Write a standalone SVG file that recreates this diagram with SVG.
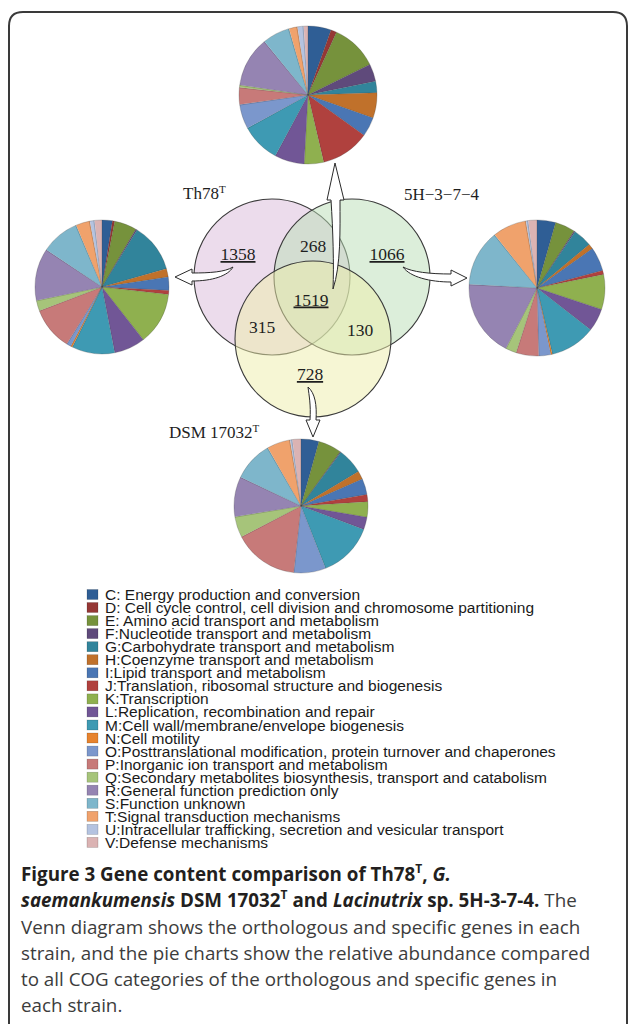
<svg xmlns="http://www.w3.org/2000/svg" xmlns:xlink="http://www.w3.org/1999/xlink" width="629" height="1024" viewBox="0 0 629 1024">
<style>
.C{fill:#2f5e95;stroke:#2f5e95}.D{fill:#953735;stroke:#953735}.E{fill:#76923c;stroke:#76923c}.F{fill:#5f4a7b;stroke:#5f4a7b}
.G{fill:#31849b;stroke:#31849b}.H{fill:#c0712b;stroke:#c0712b}.I{fill:#4a76b4;stroke:#4a76b4}.J{fill:#b0413e;stroke:#b0413e}
.K{fill:#8fb04f;stroke:#8fb04f}.L{fill:#715696;stroke:#715696}.M{fill:#3e9ab3;stroke:#3e9ab3}.N{fill:#e7832e;stroke:#e7832e}
.O{fill:#7b97cc;stroke:#7b97cc}.P{fill:#c77a79;stroke:#c77a79}.Q{fill:#a6c47a;stroke:#a6c47a}.R{fill:#9584b2;stroke:#9584b2}
.S{fill:#7eb6cb;stroke:#7eb6cb}.T{fill:#f0a26c;stroke:#f0a26c}.U{fill:#b4c3e0;stroke:#b4c3e0}.V{fill:#dbb3b3;stroke:#dbb3b3}
.pie circle{fill:none;stroke-width:114.6}
.pie .ol{stroke:#3a3a3a;stroke-opacity:.35;stroke-width:.7}
.venn circle{stroke:#3a3a3a;stroke-width:1.1}
.vn{font-family:"Liberation Serif","Times New Roman",serif;font-size:17.5px;fill:#1e1e1e;text-anchor:middle}
.vl{font-family:"Liberation Serif","Times New Roman",serif;font-size:17px;fill:#1e1e1e}
.arr{fill:#fff;stroke:#2a2a2a;stroke-width:1}
.leg text{font-family:"Liberation Sans",Arial,sans-serif;font-size:15.5px;fill:#1a1a1a}
.leg rect{stroke:#000;stroke-opacity:.25;stroke-width:.6}
.cap{font-family:"Open Sans","Liberation Sans",sans-serif;font-size:18.8px;fill:#3c3c3c}
.b{font-weight:bold;fill:#231f20}
</style>
<defs>
<path id="rl" d="M0 0H114.6" fill="none" stroke="#3a3a3a" stroke-opacity=".35" stroke-width=".7" vector-effect="non-scaling-stroke"/>
</defs>
<path d="M9 1024V26Q9 12 23 12H613Q627 12 627 26V1024" fill="none" stroke="#3a3a3a" stroke-width="2"/>

<g id="pie-top" class="pie" transform="translate(308 95) rotate(-90) scale(0.60214)">
<circle class="C" r="57.2958" stroke-dasharray="19.5 400" stroke-dashoffset="0"/>
<circle class="D" r="57.2958" stroke-dasharray="4.9 400" stroke-dashoffset="-19.5"/>
<circle class="E" r="57.2958" stroke-dasharray="39.2 400" stroke-dashoffset="-24.4"/>
<circle class="F" r="57.2958" stroke-dasharray="14.8 400" stroke-dashoffset="-63.6"/>
<circle class="G" r="57.2958" stroke-dasharray="9.6 400" stroke-dashoffset="-78.4"/>
<circle class="H" r="57.2958" stroke-dasharray="21.4 400" stroke-dashoffset="-88"/>
<circle class="I" r="57.2958" stroke-dasharray="16.2 400" stroke-dashoffset="-109.4"/>
<circle class="J" r="57.2958" stroke-dasharray="40.9 400" stroke-dashoffset="-125.6"/>
<circle class="K" r="57.2958" stroke-dasharray="16.5 400" stroke-dashoffset="-166.5"/>
<circle class="L" r="57.2958" stroke-dasharray="25 400" stroke-dashoffset="-183"/>
<circle class="M" r="57.2958" stroke-dasharray="33 400" stroke-dashoffset="-208"/>
<circle class="O" r="57.2958" stroke-dasharray="20.6 400" stroke-dashoffset="-241"/>
<circle class="P" r="57.2958" stroke-dasharray="14.4 400" stroke-dashoffset="-261.6"/>
<circle class="Q" r="57.2958" stroke-dasharray="2 400" stroke-dashoffset="-276"/>
<circle class="R" r="57.2958" stroke-dasharray="42.4 400" stroke-dashoffset="-278"/>
<circle class="S" r="57.2958" stroke-dasharray="23.1 400" stroke-dashoffset="-320.4"/>
<circle class="T" r="57.2958" stroke-dasharray="7.1 400" stroke-dashoffset="-343.5"/>
<circle class="U" r="57.2958" stroke-dasharray="5.2 400" stroke-dashoffset="-350.6"/>
<circle class="V" r="57.2958" stroke-dasharray="4.2 400" stroke-dashoffset="-355.8"/>
<use href="#rl"/><use href="#rl" transform="rotate(19.5)"/><use href="#rl" transform="rotate(24.4)"/><use href="#rl" transform="rotate(63.6)"/><use href="#rl" transform="rotate(78.4)"/><use href="#rl" transform="rotate(88)"/><use href="#rl" transform="rotate(109.4)"/><use href="#rl" transform="rotate(125.6)"/><use href="#rl" transform="rotate(166.5)"/><use href="#rl" transform="rotate(183)"/><use href="#rl" transform="rotate(208)"/><use href="#rl" transform="rotate(241)"/><use href="#rl" transform="rotate(261.6)"/><use href="#rl" transform="rotate(276)"/><use href="#rl" transform="rotate(278)"/><use href="#rl" transform="rotate(320.4)"/><use href="#rl" transform="rotate(343.5)"/><use href="#rl" transform="rotate(350.6)"/><use href="#rl" transform="rotate(355.8)"/>
<circle class="ol" r="114.6" vector-effect="non-scaling-stroke"/>
</g>

<g id="pie-left" class="pie" transform="translate(102 287) rotate(-90) scale(0.58468)">
<circle class="C" r="57.2958" stroke-dasharray="9 400" stroke-dashoffset="0"/>
<circle class="D" r="57.2958" stroke-dasharray="2 400" stroke-dashoffset="-9"/>
<circle class="E" r="57.2958" stroke-dasharray="19.3 400" stroke-dashoffset="-11"/>
<circle class="F" r="57.2958" stroke-dasharray="1.2 400" stroke-dashoffset="-30.3"/>
<circle class="G" r="57.2958" stroke-dasharray="42.4 400" stroke-dashoffset="-31.5"/>
<circle class="H" r="57.2958" stroke-dasharray="7.4 400" stroke-dashoffset="-73.9"/>
<circle class="I" r="57.2958" stroke-dasharray="11.6 400" stroke-dashoffset="-81.3"/>
<circle class="J" r="57.2958" stroke-dasharray="3.5 400" stroke-dashoffset="-92.9"/>
<circle class="K" r="57.2958" stroke-dasharray="45.4 400" stroke-dashoffset="-96.4"/>
<circle class="L" r="57.2958" stroke-dasharray="27 400" stroke-dashoffset="-141.8"/>
<circle class="M" r="57.2958" stroke-dasharray="37.2 400" stroke-dashoffset="-168.8"/>
<circle class="N" r="57.2958" stroke-dasharray="1.5 400" stroke-dashoffset="-206"/>
<circle class="O" r="57.2958" stroke-dasharray="3.9 400" stroke-dashoffset="-207.5"/>
<circle class="P" r="57.2958" stroke-dasharray="37.5 400" stroke-dashoffset="-211.4"/>
<circle class="Q" r="57.2958" stroke-dasharray="9.1 400" stroke-dashoffset="-248.9"/>
<circle class="R" r="57.2958" stroke-dasharray="45.4 400" stroke-dashoffset="-258"/>
<circle class="S" r="57.2958" stroke-dasharray="33.4 400" stroke-dashoffset="-303.4"/>
<circle class="T" r="57.2958" stroke-dasharray="12.2 400" stroke-dashoffset="-336.8"/>
<circle class="U" r="57.2958" stroke-dasharray="4 400" stroke-dashoffset="-349"/>
<circle class="V" r="57.2958" stroke-dasharray="7 400" stroke-dashoffset="-353"/>
<use href="#rl"/><use href="#rl" transform="rotate(9)"/><use href="#rl" transform="rotate(11)"/><use href="#rl" transform="rotate(30.3)"/><use href="#rl" transform="rotate(31.5)"/><use href="#rl" transform="rotate(73.9)"/><use href="#rl" transform="rotate(81.3)"/><use href="#rl" transform="rotate(92.9)"/><use href="#rl" transform="rotate(96.4)"/><use href="#rl" transform="rotate(141.8)"/><use href="#rl" transform="rotate(168.8)"/><use href="#rl" transform="rotate(206)"/><use href="#rl" transform="rotate(207.5)"/><use href="#rl" transform="rotate(211.4)"/><use href="#rl" transform="rotate(248.9)"/><use href="#rl" transform="rotate(258)"/><use href="#rl" transform="rotate(303.4)"/><use href="#rl" transform="rotate(336.8)"/><use href="#rl" transform="rotate(349)"/><use href="#rl" transform="rotate(353)"/>
<circle class="ol" r="114.6" vector-effect="non-scaling-stroke"/>
</g>

<g id="pie-right" class="pie" transform="translate(537 288) rotate(-90) scale(0.59341)">
<circle class="C" r="57.2958" stroke-dasharray="16 400" stroke-dashoffset="0"/>
<circle class="E" r="57.2958" stroke-dasharray="17 400" stroke-dashoffset="-16"/>
<circle class="F" r="57.2958" stroke-dasharray="1 400" stroke-dashoffset="-33"/>
<circle class="G" r="57.2958" stroke-dasharray="16 400" stroke-dashoffset="-34"/>
<circle class="H" r="57.2958" stroke-dasharray="4.5 400" stroke-dashoffset="-50"/>
<circle class="I" r="57.2958" stroke-dasharray="20.4 400" stroke-dashoffset="-54.5"/>
<circle class="J" r="57.2958" stroke-dasharray="3.5 400" stroke-dashoffset="-74.9"/>
<circle class="K" r="57.2958" stroke-dasharray="29.9 400" stroke-dashoffset="-78.4"/>
<circle class="L" r="57.2958" stroke-dasharray="19.5 400" stroke-dashoffset="-108.3"/>
<circle class="M" r="57.2958" stroke-dasharray="38.8 400" stroke-dashoffset="-127.8"/>
<circle class="N" r="57.2958" stroke-dasharray="1.4 400" stroke-dashoffset="-166.6"/>
<circle class="O" r="57.2958" stroke-dasharray="10.3 400" stroke-dashoffset="-168"/>
<circle class="P" r="57.2958" stroke-dasharray="19.4 400" stroke-dashoffset="-178.3"/>
<circle class="Q" r="57.2958" stroke-dasharray="9.3 400" stroke-dashoffset="-197.7"/>
<circle class="R" r="57.2958" stroke-dasharray="65.7 400" stroke-dashoffset="-207"/>
<circle class="S" r="57.2958" stroke-dasharray="48.3 400" stroke-dashoffset="-272.7"/>
<circle class="T" r="57.2958" stroke-dasharray="29 400" stroke-dashoffset="-321"/>
<circle class="U" r="57.2958" stroke-dasharray="2 400" stroke-dashoffset="-350"/>
<circle class="V" r="57.2958" stroke-dasharray="8 400" stroke-dashoffset="-352"/>
<use href="#rl"/><use href="#rl" transform="rotate(16)"/><use href="#rl" transform="rotate(33)"/><use href="#rl" transform="rotate(34)"/><use href="#rl" transform="rotate(50)"/><use href="#rl" transform="rotate(54.5)"/><use href="#rl" transform="rotate(74.9)"/><use href="#rl" transform="rotate(78.4)"/><use href="#rl" transform="rotate(108.3)"/><use href="#rl" transform="rotate(127.8)"/><use href="#rl" transform="rotate(166.6)"/><use href="#rl" transform="rotate(168)"/><use href="#rl" transform="rotate(178.3)"/><use href="#rl" transform="rotate(197.7)"/><use href="#rl" transform="rotate(207)"/><use href="#rl" transform="rotate(272.7)"/><use href="#rl" transform="rotate(321)"/><use href="#rl" transform="rotate(350)"/><use href="#rl" transform="rotate(352)"/>
<circle class="ol" r="114.6" vector-effect="non-scaling-stroke"/>
</g>

<g id="pie-bottom" class="pie" transform="translate(301 506) rotate(-90) scale(0.58468)">
<circle class="C" r="57.2958" stroke-dasharray="15.6 400" stroke-dashoffset="0"/>
<circle class="E" r="57.2958" stroke-dasharray="20.2 400" stroke-dashoffset="-15.6"/>
<circle class="F" r="57.2958" stroke-dasharray="0.7 400" stroke-dashoffset="-35.8"/>
<circle class="G" r="57.2958" stroke-dasharray="22.3 400" stroke-dashoffset="-36.5"/>
<circle class="H" r="57.2958" stroke-dasharray="7.4 400" stroke-dashoffset="-58.8"/>
<circle class="I" r="57.2958" stroke-dasharray="13.7 400" stroke-dashoffset="-66.2"/>
<circle class="J" r="57.2958" stroke-dasharray="6.3 400" stroke-dashoffset="-79.9"/>
<circle class="K" r="57.2958" stroke-dasharray="13.4 400" stroke-dashoffset="-86.2"/>
<circle class="L" r="57.2958" stroke-dasharray="10.7 400" stroke-dashoffset="-99.6"/>
<circle class="M" r="57.2958" stroke-dasharray="48 400" stroke-dashoffset="-110.3"/>
<circle class="O" r="57.2958" stroke-dasharray="27.7 400" stroke-dashoffset="-158.3"/>
<circle class="P" r="57.2958" stroke-dasharray="56.3 400" stroke-dashoffset="-186"/>
<circle class="Q" r="57.2958" stroke-dasharray="18.1 400" stroke-dashoffset="-242.3"/>
<circle class="R" r="57.2958" stroke-dasharray="34.8 400" stroke-dashoffset="-260.4"/>
<circle class="S" r="57.2958" stroke-dasharray="34.6 400" stroke-dashoffset="-295.2"/>
<circle class="T" r="57.2958" stroke-dasharray="20.2 400" stroke-dashoffset="-329.8"/>
<circle class="U" r="57.2958" stroke-dasharray="2 400" stroke-dashoffset="-350"/>
<circle class="V" r="57.2958" stroke-dasharray="8 400" stroke-dashoffset="-352"/>
<use href="#rl"/><use href="#rl" transform="rotate(15.6)"/><use href="#rl" transform="rotate(35.8)"/><use href="#rl" transform="rotate(36.5)"/><use href="#rl" transform="rotate(58.8)"/><use href="#rl" transform="rotate(66.2)"/><use href="#rl" transform="rotate(79.9)"/><use href="#rl" transform="rotate(86.2)"/><use href="#rl" transform="rotate(99.6)"/><use href="#rl" transform="rotate(110.3)"/><use href="#rl" transform="rotate(158.3)"/><use href="#rl" transform="rotate(186)"/><use href="#rl" transform="rotate(242.3)"/><use href="#rl" transform="rotate(260.4)"/><use href="#rl" transform="rotate(295.2)"/><use href="#rl" transform="rotate(329.8)"/><use href="#rl" transform="rotate(350)"/><use href="#rl" transform="rotate(352)"/>
<circle class="ol" r="114.6" vector-effect="non-scaling-stroke"/>
</g>

<g id="venn" class="venn">
<circle id="set-th78" cx="272" cy="277" r="78" fill="#d9b9d9" fill-opacity=".5"/>
<circle id="set-5h" cx="352" cy="277" r="78" fill="#b9ddb5" fill-opacity=".5"/>
<circle id="set-dsm" cx="313" cy="339" r="78" fill="#edeea9" fill-opacity=".5"/>
</g>

<g id="venn-labels">
<text class="vl" x="183" y="199">Th78<tspan font-size="11" dy="-6">T</tspan></text>
<text class="vl" x="404" y="200">5H−3−7−4</text>
<text class="vl" x="169" y="438">DSM 17032<tspan font-size="11" dy="-6">T</tspan></text>
<text class="vn" x="238" y="260" text-decoration="underline">1358</text>
<text class="vn" x="313" y="252">268</text>
<text class="vn" x="387" y="260" text-decoration="underline">1066</text>
<text class="vn" x="311" y="305.5" text-decoration="underline">1519</text>
<text class="vn" x="262" y="333">315</text>
<text class="vn" x="360" y="336">130</text>
<text class="vn" x="310" y="380" text-decoration="underline">728</text>
</g>

<g id="connectors">
<path class="arr" d="M335 163L344 200L340 200C340 230 341 265 333 289C334 265 333 230 331 200L327 200Z"/>
<path class="arr" d="M175 277L192 269L192 273C210 273 225 272 233 267C228 276 212 281 192 281L192 285Z"/>
<path class="arr" d="M467 278L451 270L451 274C430 274 412 272 403 267C410 277 430 282 451 282L451 286Z"/>
<path class="arr" d="M313 437L306 420L310 420C311 405 309 395 308 387C315 393 317 405 316 420L320 420Z"/>
</g>

<g id="legend" class="leg">
<rect class="C" x="87" y="589.5" width="11" height="10"/><text x="105" y="600">C: Energy production and conversion</text>
<rect class="D" x="87" y="602.5" width="11" height="10"/><text x="105" y="613">D: Cell cycle control, cell division and chromosome partitioning</text>
<rect class="E" x="87" y="615.6" width="11" height="10"/><text x="105" y="626.1">E: Amino acid transport and metabolism</text>
<rect class="F" x="87" y="628.6" width="11" height="10"/><text x="105" y="639.15">F:Nucleotide transport and metabolism</text>
<rect class="G" x="87" y="641.7" width="11" height="10"/><text x="105" y="652.2">G:Carbohydrate transport and metabolism</text>
<rect class="H" x="87" y="654.7" width="11" height="10"/><text x="105" y="665.25">H:Coenzyme transport and metabolism</text>
<rect class="I" x="87" y="667.8" width="11" height="10"/><text x="105" y="678.3">I:Lipid transport and metabolism</text>
<rect class="J" x="87" y="680.8" width="11" height="10"/><text x="105" y="691.35">J:Translation, ribosomal structure and biogenesis</text>
<rect class="K" x="87" y="693.9" width="11" height="10"/><text x="105" y="704.4">K:Transcription</text>
<rect class="L" x="87" y="706.9" width="11" height="10"/><text x="105" y="717.45">L:Replication, recombination and repair</text>
<rect class="M" x="87" y="720" width="11" height="10"/><text x="105" y="730.5">M:Cell wall/membrane/envelope biogenesis</text>
<rect class="N" x="87" y="733" width="11" height="10"/><text x="105" y="743.55">N:Cell motility</text>
<rect class="O" x="87" y="746.1" width="11" height="10"/><text x="105" y="756.6">O:Posttranslational modification, protein turnover and chaperones</text>
<rect class="P" x="87" y="759.1" width="11" height="10"/><text x="105" y="769.65">P:Inorganic ion transport and metabolism</text>
<rect class="Q" x="87" y="772.2" width="11" height="10"/><text x="105" y="782.7">Q:Secondary metabolites biosynthesis, transport and catabolism</text>
<rect class="R" x="87" y="785.2" width="11" height="10"/><text x="105" y="795.75">R:General function prediction only</text>
<rect class="S" x="87" y="798.3" width="11" height="10"/><text x="105" y="808.8">S:Function unknown</text>
<rect class="T" x="87" y="811.3" width="11" height="10"/><text x="105" y="821.85">T:Signal transduction mechanisms</text>
<rect class="U" x="87" y="824.4" width="11" height="10"/><text x="105" y="834.9">U:Intracellular trafficking, secretion and vesicular transport</text>
<rect class="V" x="87" y="837.4" width="11" height="10"/><text x="105" y="847.95">V:Defense mechanisms</text>
</g>

<g id="caption" class="cap">
<text x="21" y="880.5"><tspan class="b">Figure 3 Gene content comparison of Th78</tspan><tspan class="b" font-size="12" dy="-8">T</tspan><tspan class="b" dy="8">, </tspan><tspan class="b" font-style="italic">G.</tspan></text>
<text x="21" y="907"><tspan class="b" font-style="italic">saemankumensis</tspan><tspan class="b"> DSM 17032</tspan><tspan class="b" font-size="12" dy="-8">T</tspan><tspan class="b" dy="8"> and </tspan><tspan class="b" font-style="italic">Lacinutrix</tspan><tspan class="b"> sp. 5H-3-7-4.</tspan> The</text>
<text x="21" y="933.5">Venn diagram shows the orthologous and specific genes in each</text>
<text x="21" y="960">strain, and the pie charts show the relative abundance compared</text>
<text x="21" y="986">to all COG categories of the orthologous and specific genes in</text>
<text x="21" y="1012">each strain.</text>
</g>
</svg>
